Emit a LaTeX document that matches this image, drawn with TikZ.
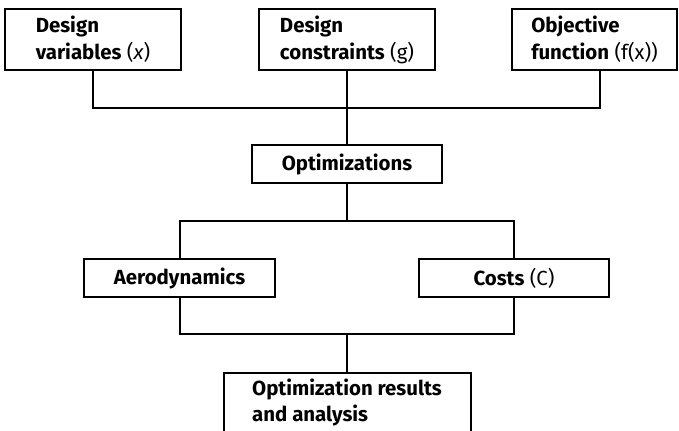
\documentclass[tikz,border=0pt]{standalone}
\usepackage{fontspec}
\setmainfont{Fira Sans}
\begin{document}
\begin{tikzpicture}[x=1bp,y=-1bp,
  every node/.style={font=\fontsize{20.5}{27}\selectfont},
  box/.style={draw, line width=2bp, inner sep=0pt, align=left},
  wire/.style={line width=2bp}]
\useasboundingbox (0,0) rectangle (679,430);

% input boxes
\node[box, minimum width=176bp, minimum height=61bp] (dv) at (93,39.5)
  {\textbf{Design}\\\textbf{variables} (\textit{x})};
\node[box, minimum width=176bp, minimum height=61bp] (dc) at (347,39.5)
  {\textbf{Design}\\\textbf{constraints} (g)};
\node[box, minimum width=165bp, minimum height=61bp] (of) at (594.5,39.5)
  {\textbf{Objective}\\\textbf{function} (f(x))};

% optimisation stage
\node[box, minimum width=190bp, minimum height=38bp] (opt) at (347,164)
  {\textbf{Optimizations}};

% disciplines
\node[box, minimum width=191bp, minimum height=38bp] (aero) at (179.5,278)
  {\textbf{Aerodynamics}};
\node[box, minimum width=190bp, minimum height=38bp] (cost) at (514,278)
  {\textbf{Costs} (C)};

% results
\node[box, minimum width=247bp, minimum height=59bp] (res) at (347,402.5)
  {\textbf{Optimization results}\\\textbf{and analysis}};

% bus junctions
\coordinate (j1) at (347,108);
\coordinate (j2) at (347,221);
\coordinate (j3) at (347,334);

% connectors
\draw[wire] (dv.south) |- (j1);
\draw[wire] (j1) -| ([xshift=5.5bp]of.south);
\draw[wire] (dc.south) -- (opt.north);
\draw[wire] (opt.south) -- (j2);
\draw[wire] (aero.north) |- (j2) -| (cost.north);
\draw[wire] (aero.south) |- (j3) -| (cost.south);
\draw[wire] (j3) -- (res.north);
\end{tikzpicture}
\end{document}
